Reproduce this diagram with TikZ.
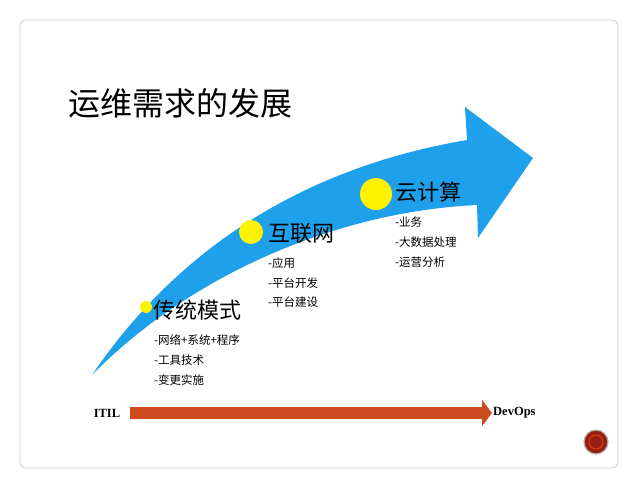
\documentclass[tikz,border=0pt]{standalone}
\usepackage{fontspec}
\newfontfamily\cjk{Noto Sans CJK SC}
\newfontfamily\ser{Liberation Serif}
\usetikzlibrary{arrows.meta}
\definecolor{arrblue}{RGB}{30,160,235}
\definecolor{orng}{RGB}{205,75,30}
\definecolor{dred}{RGB}{150,30,20}
\tikzset{big/.style={font=\cjk\fontsize{22}{24}\selectfont,anchor=west,inner sep=0},
 small/.style={font=\cjk\fontsize{11.5}{13}\selectfont,anchor=west,inner sep=0},
 dot/.style={circle,fill=yellow,inner sep=0}}
\begin{document}
\begin{tikzpicture}[x=1pt,y=-1pt]
\useasboundingbox (0,0) rectangle (640,489);
\draw[gray!40,rounded corners=6,line width=0.8] (20,20) rectangle (618,468);
\node[font=\cjk\fontsize{32}{36}\selectfont,anchor=west,inner sep=0] (title) at (68,103) {运维需求的发展};
% big blue arrow
\fill[arrblue] (92,375) .. controls (170,260) and (290,170) .. (467,140)
  -- (465,107) -- (533,158) -- (478,238) -- (477,205)
  .. controls (330,212) and (185,280) .. cycle;
\node[dot,minimum size=12] (d1) at (146,307) {};
\node[dot,minimum size=24] (d2) at (251,232) {};
\node[dot,minimum size=32] (d3) at (376,194) {};
\node[big] (l1) at (153,310) {传统模式};
\node[big] (l2) at (268,233) {互联网};
\node[big] (l3) at (395,192) {云计算};
\node[small] (s11) at (154,340) {-网络+系统+程序};
\node[small] (s12) at (154,360) {-工具技术};
\node[small] (s13) at (154,380) {-变更实施};
\node[small] (s21) at (268,263) {-应用};
\node[small] (s22) at (268,283) {-平台开发};
\node[small] (s23) at (268,302) {-平台建设};
\node[small] (s31) at (395,222) {-业务};
\node[small] (s32) at (395,242) {-大数据处理};
\node[small] (s33) at (395,262) {-运营分析};
\node[font=\ser\bfseries\fontsize{12.5}{14}\selectfont,inner sep=1] (itil) at (107,413) {ITIL};
\node[font=\ser\bfseries\fontsize{12.5}{14}\selectfont,anchor=west,inner sep=1] (dev) at (492,413) {DevOps};
\draw[orng,line width=12,-{Triangle[length=10,width=26]}] (130,413) -- (dev.west);
\node[circle,fill=dred,draw=gray!60,line width=1.2,minimum size=24,inner sep=0] (btn) at (596,442) {};
\node[circle,draw=orange!60!red,line width=0.6,minimum size=14,inner sep=0] (btn2) at (btn) {};
\end{tikzpicture}
\end{document}
